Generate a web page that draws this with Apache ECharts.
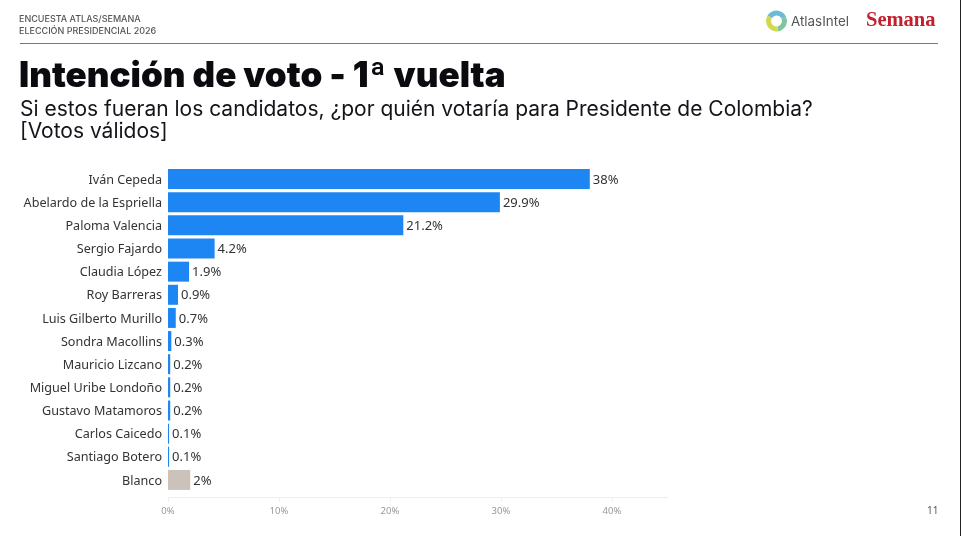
<!DOCTYPE html>
<html>
<head>
<meta charset="utf-8">
<style>html,body{margin:0;padding:0;background:#fff}#chart{width:961px;height:536px}</style>
<script src="https://cdn.jsdelivr.net/npm/echarts@6/dist/echarts.min.js"></script>
</head>
<body>
<div id="chart"></div>
<script>
var candidatos = ['Iván Cepeda', 'Abelardo de la Espriella', 'Paloma Valencia', 'Sergio Fajardo', 'Claudia López', 'Roy Barreras', 'Luis Gilberto Murillo', 'Sondra Macollins', 'Mauricio Lizcano', 'Miguel Uribe Londoño', 'Gustavo Matamoros', 'Carlos Caicedo', 'Santiago Botero', 'Blanco'];
var votos = [38, 29.9, 21.2, 4.2, 1.9, 0.9, 0.7, 0.3, 0.2, 0.2, 0.2, 0.1, 0.1, 2];
var colores = ['#1e86f2', '#1e86f2', '#1e86f2', '#1e86f2', '#1e86f2', '#1e86f2', '#1e86f2', '#1e86f2', '#1e86f2', '#1e86f2', '#1e86f2', '#1e86f2', '#1e86f2', '#cbc2bb'];

var myChart = echarts.init(document.getElementById('chart'), null, {renderer: 'canvas'});

var datos = [];
for (var i = 0; i < votos.length; i++) {
    datos.push({value: votos[i], itemStyle: {color: colores[i]}});
}

var option = {
    animation: false,
    backgroundColor: '#fff',
    title: [
        {text: 'ENCUESTA ATLAS/SEMANA', left: 14, top: 10, textStyle: {fontFamily: 'Inter', fontSize: 9, fontWeight: 500, color: '#555'}},
        {text: 'ELECCIÓN PRESIDENCIAL 2026', left: 14, top: 22, textStyle: {fontFamily: 'Inter', fontSize: 9, fontWeight: 500, color: '#555'}},
        {text: 'Intención de voto - 1ª vuelta', left: 14, top: 54, textStyle: {fontFamily: 'Inter', fontSize: 35, fontWeight: 900, color: '#0a0a0f'}},
        {text: 'Si estos fueran los candidatos, ¿por quién votaría para Presidente de Colombia?', left: 15, top: 94, textStyle: {fontFamily: 'Inter', fontSize: 21, fontWeight: 400, color: '#14141a'}},
        {text: '[Votos válidos]', left: 15, top: 116, textStyle: {fontFamily: 'Inter', fontSize: 21, fontWeight: 400, color: '#14141a'}},
        {text: '11', left: 922, top: 501, textStyle: {fontFamily: 'Noto Sans', fontSize: 10, fontWeight: 400, color: '#555'}}
    ],
    graphic: [
        {type: 'line', shape: {x1: 20, y1: 43.5, x2: 938, y2: 43.5}, style: {stroke: '#777', lineWidth: 1.2}},
        {type: 'line', shape: {x1: 960.5, y1: 0, x2: 960.5, y2: 536}, style: {stroke: '#222', lineWidth: 1}},
        {type: 'arc', shape: {cx: 776.5, cy: 21, r: 8, startAngle: -2.6, endAngle: -0.4}, style: {stroke: '#6bbbd8', fill: 'none', lineWidth: 5}},
        {type: 'arc', shape: {cx: 776.5, cy: 21, r: 8, startAngle: -0.4, endAngle: 1.4}, style: {stroke: '#7cc7a0', fill: 'none', lineWidth: 5}},
        {type: 'arc', shape: {cx: 776.5, cy: 21, r: 8, startAngle: 1.4, endAngle: 3.68}, style: {stroke: '#d3d84f', fill: 'none', lineWidth: 5}},
        {type: 'text', style: {x: 791, y: 15, text: 'AtlasIntel', fontFamily: 'Inter', fontSize: 13.4, fill: '#555'}},
        {type: 'text', style: {x: 866, y: 10, text: 'Semana', fontFamily: 'Liberation Serif', fontWeight: 700, fontSize: 20.5, fill: '#c3202f'}}
    ],
    grid: {left: 168, top: 167.5, width: 499.5, height: 324, containLabel: false},
    xAxis: {
        type: 'value',
        min: 0,
        max: 45,
        interval: 10,
        offset: 6,
        axisLine: {show: true, lineStyle: {color: '#eeeeee', width: 1}},
        axisTick: {show: true, length: 4, lineStyle: {color: '#eeeeee'}},
        splitLine: {show: false},
        axisLabel: {formatter: '{value}%', showMaxLabel: false, fontFamily: 'Noto Sans', fontSize: 9.5, color: '#999', margin: 9}
    },
    yAxis: {
        type: 'category',
        inverse: true,
        data: candidatos,
        axisLine: {show: false},
        axisTick: {show: false},
        axisLabel: {fontFamily: 'Noto Sans', fontSize: 12.6, color: '#333', margin: 6, verticalAlign: 'top', lineHeight: 2}
    },
    series: [
        {
            type: 'bar',
            data: datos,
            barWidth: 20,
            label: {show: true, position: 'right', distance: 3, offset: [0, 1], formatter: '{c}%', fontFamily: 'Noto Sans', fontSize: 13, color: '#333'}
        }
    ]
};
myChart.setOption(option);
</script>
</body>
</html>
